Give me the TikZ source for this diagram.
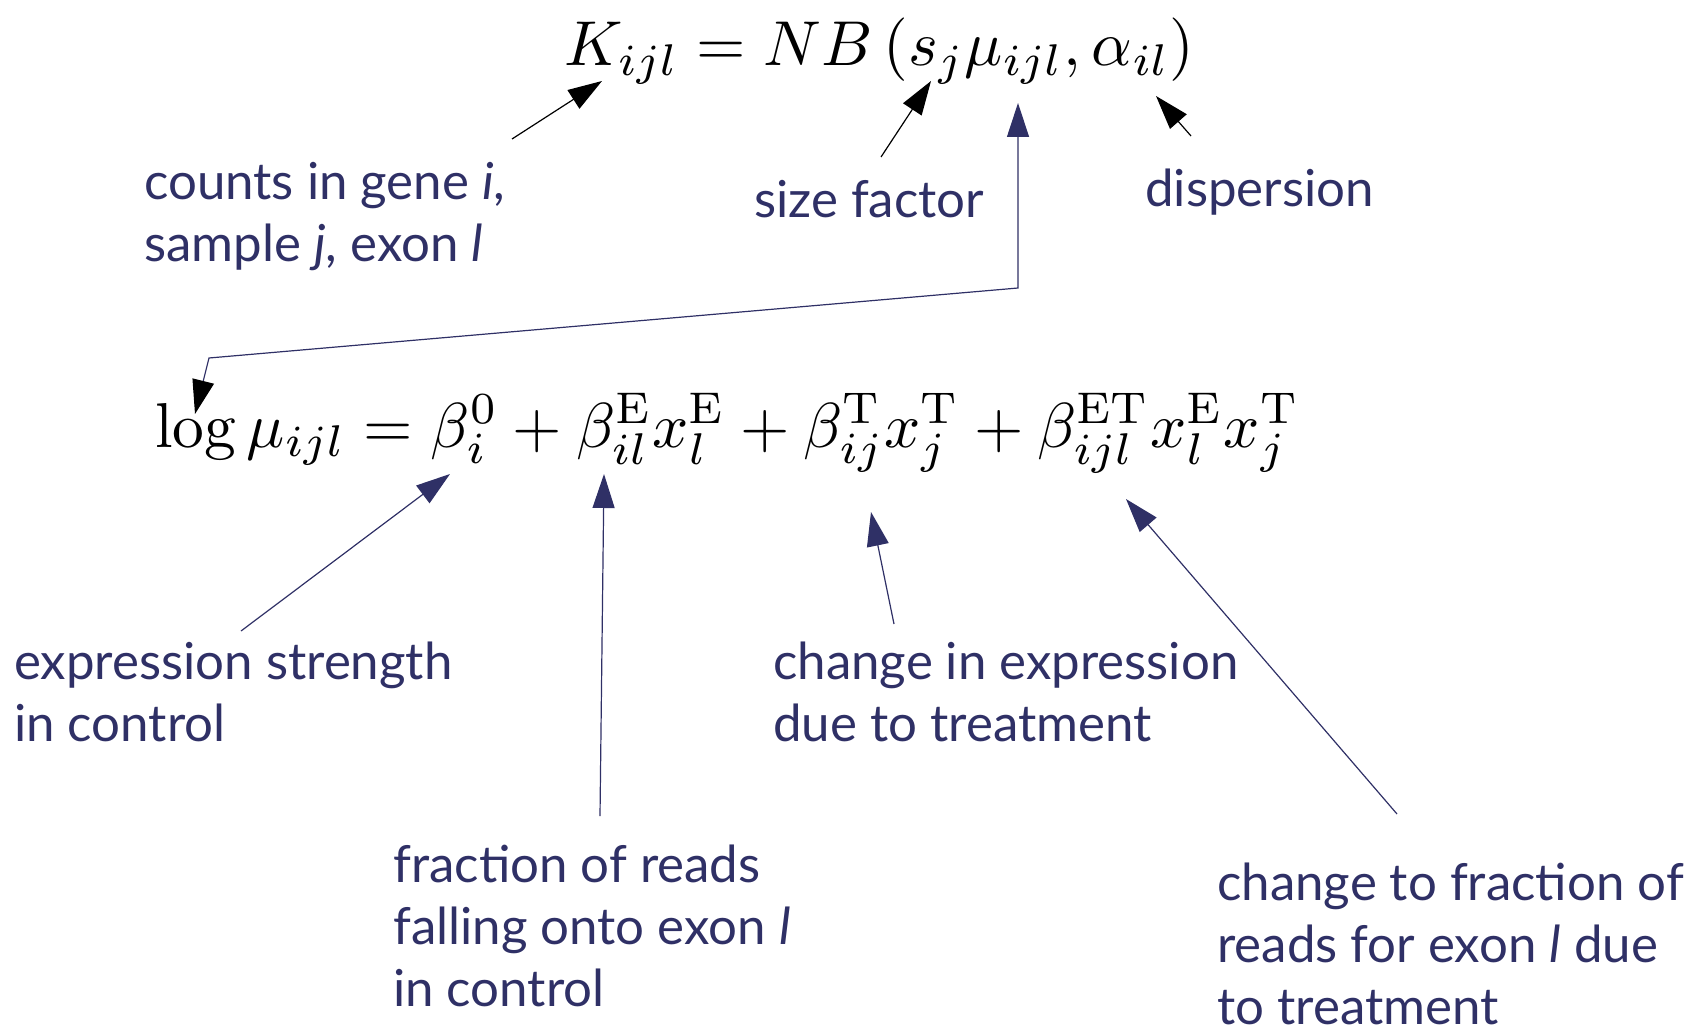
\RequirePackage{fix-cm}
\documentclass[tikz,border=0pt]{standalone}
\usepackage{fontspec}
\newfontfamily\labelfont{Lato}
\usetikzlibrary{arrows.meta}
\definecolor{navy}{HTML}{2F3066}
\tikzset{
  lbl/.style={font=\labelfont\fontsize{51}{62}\selectfont, text=navy, anchor=base west, align=left, inner sep=0pt},
  eqn/.style={anchor=base west, inner sep=0pt},
  blkarrow/.style={draw=black, line width=1.2pt, -{Triangle[length=34pt,width=22pt]}},
  bluearrow/.style={draw=navy, line width=1.2pt, -{Triangle[length=34pt,width=22pt]}},
}
\begin{document}
\begin{tikzpicture}[x=1pt,y=-1pt]
\useasboundingbox (0,0) rectangle (1702,1030);
% formulas
\node[eqn] (top) at (564,66) {\resizebox{630pt}{!}{$K_{ijl} = NB\left(s_j\mu_{ijl},\alpha_{il}\right)$}};
\node[eqn] (bot) at (155,447) {\resizebox{1144pt}{!}{$\log\mu_{ijl} = \beta_i^0 + \beta_{il}^{\mathrm{E}} x_l^{\mathrm{E}} + \beta_{ij}^{\mathrm{T}} x_j^{\mathrm{T}} + \beta_{ijl}^{\mathrm{ET}} x_l^{\mathrm{E}} x_j^{\mathrm{T}}$}};
% labels (anchored at the baseline of their last line)
\node[lbl] (counts) at (144,261) {counts in gene \textit{i},\\sample \textit{j}, exon \textit{l}};
\node[lbl] (size) at (754,217) {size factor};
\node[lbl] (disp) at (1145,206) {dispersion};
\node[lbl] (expr) at (14,741) {expression strength\\in control};
\node[lbl] (frac) at (393,1006) {fraction of reads\\falling onto exon \textit{l}\\in control};
\node[lbl] (chexp) at (773,741) {change in expression\\due to treatment};
\node[lbl] (chfrac) at (1217,1024) {change to fraction of\\reads for exon \textit{l} due\\to treatment};
% arrow end points
\coordinate (a1s) at (512,139); \coordinate (a1e) at (602,81);
\coordinate (a2s) at (881,157); \coordinate (a2e) at (931,81);
\coordinate (a4s) at (1191,136); \coordinate (a4e) at (1156,96);
\coordinate (mutip) at (1018,103); \coordinate (k1) at (1018,288);
\coordinate (k2) at (209,358); \coordinate (logtip) at (195,414);
\coordinate (b1s) at (241,631); \coordinate (b1e) at (450,474);
\coordinate (b2s) at (600,816); \coordinate (b2e) at (604,474);
\coordinate (b3s) at (894,624); \coordinate (b3e) at (871,512);
\coordinate (b4s) at (1397,814); \coordinate (b4e) at (1126,499);
% connectors
\draw[blkarrow] (a1s) -- (a1e);
\draw[blkarrow] (a2s) -- (a2e);
\draw[blkarrow] (a4s) -- (a4e);
\draw[draw=navy, line width=1.2pt, {Triangle[length=34pt,width=22pt,color=black]}-{Triangle[length=34pt,width=22pt]}] (logtip) -- (k2) -- (k1) -- (mutip);
\draw[bluearrow] (b1s) -- (b1e);
\draw[bluearrow] (b2s) -- (b2e);
\draw[bluearrow] (b3s) -- (b3e);
\draw[bluearrow] (b4s) -- (b4e);
\end{tikzpicture}
\end{document}
